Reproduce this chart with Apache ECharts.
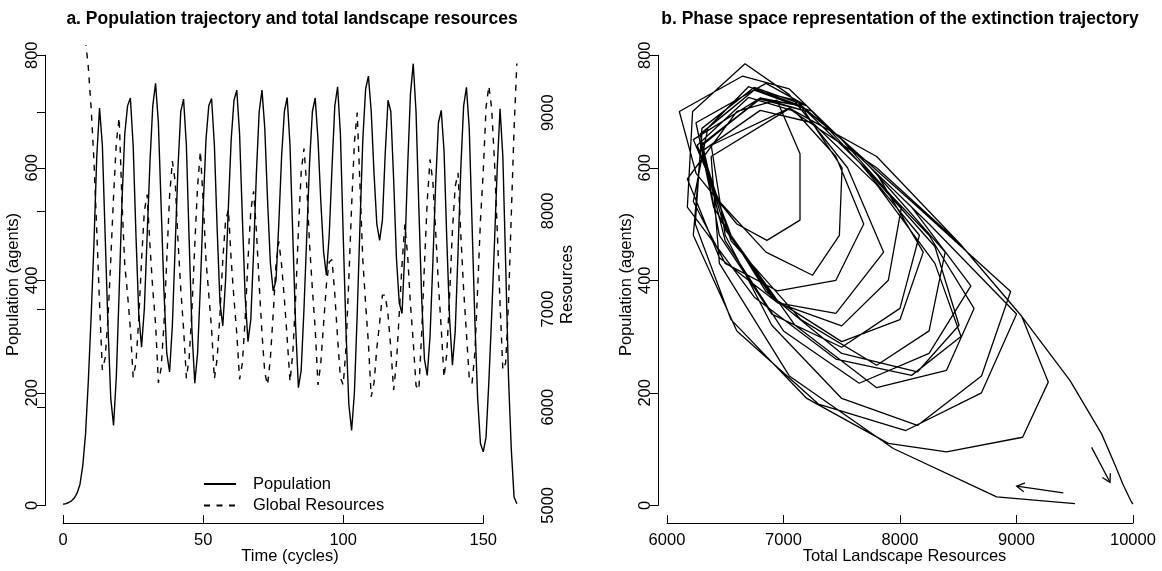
<!DOCTYPE html>
<html>
<head>
<meta charset="utf-8">
<script src="https://cdn.jsdelivr.net/npm/echarts@6/dist/echarts.min.js"></script>
<style>
html,body{margin:0;padding:0;background:#fff;}
#c{width:1162px;height:571px;}
</style>
</head>
<body>
<div id="c"></div>
<script>
// ---------------- DATA ----------------
// time steps (cycles)
const cycles = Array.from({length: 163}, (_, i) => i);
// population (agents) per cycle
const population = [
  2, 3, 5, 8, 13, 22, 37, 70, 127, 222,
  336, 465, 620, 706, 640, 480, 320, 190, 142, 230,
  380, 540, 660, 710, 724, 640, 480, 340, 281, 350,
  480, 610, 710, 750, 680, 530, 380, 270, 237, 320,
  460, 600, 700, 722, 640, 470, 310, 217, 270, 390,
  530, 650, 710, 723, 640, 490, 360, 319, 400, 530,
  650, 720, 738, 660, 510, 370, 291, 330, 450, 590,
  700, 738, 670, 540, 430, 381, 400, 500, 620, 700,
  725, 640, 480, 320, 209, 240, 350, 480, 610, 700,
  724, 650, 540, 450, 409, 480, 600, 710, 744, 660,
  480, 310, 180, 133, 200, 340, 500, 650, 740, 763,
  700, 590, 500, 471, 507, 625, 720, 700, 580, 440,
  360, 341, 450, 600, 730, 785, 700, 530, 370, 260,
  231, 300, 430, 570, 680, 702, 630, 470, 330, 249,
  310, 450, 600, 710, 743, 670, 500, 330, 190, 110,
  95, 121, 219, 336, 465, 600, 705, 620, 430, 230,
  101, 15, 3
];
// total landscape resources per cycle
const resources = [
  10000, 9995, 9990, 9982, 9970, 9950, 9915, 9850, 9731, 9459,
  9045, 8515, 7800, 7050, 6380, 6500, 6900, 7500, 8150, 8700,
  8950, 8100, 7450, 7150, 6800, 6304, 6450, 6900, 7500, 8000,
  8167, 7650, 7200, 6850, 6249, 6400, 6850, 7500, 8150, 8507,
  8300, 7700, 7200, 6800, 6294, 6500, 7000, 7650, 8250, 8609,
  8100, 7500, 7150, 6800, 6287, 6500, 6950, 7500, 7900, 8013,
  7500, 7100, 6750, 6284, 6450, 6900, 7500, 8000, 8200, 7800,
  7250, 6750, 6350, 6226, 6500, 6950, 7450, 7689, 7450, 7100,
  6700, 6260, 6550, 7100, 7800, 8400, 8636, 8250, 7650, 7200,
  6800, 6226, 6450, 6850, 7250, 7480, 7503, 7150, 6700, 6300,
  6226, 6600, 7300, 8050, 8700, 9001, 8250, 7500, 7050, 6650,
  6106, 6250, 6600, 6858, 7142, 7142, 6944, 6600, 6175, 6450,
  6950, 7450, 7860, 7550, 7050, 6670, 6220, 6175, 6750, 7450,
  8100, 8524, 8300, 7800, 7250, 6800, 6304, 6550, 7150, 7800,
  8250, 8388, 7750, 7200, 6750, 6300, 6243, 6550, 7200, 7900,
  8400, 9053, 9273, 9045, 8515, 7800, 7050, 6379, 6450, 7050,
  7943, 8830, 9502
];
// axis ticks: [min, max, step]
const timeTicks = [0, 150, 50];
const popTicks = [0, 800, 200];
const resTicks = [5000, 9000, 1000];
const landTicks = [6000, 10000, 1000];
// direction arrows in phase plot: [x0, y0, x1, y1]
const arrows = [
  [9645, 103, 9803, 41],
  [9402, 22, 9002, 34]
];
const titleA = 'a. Population trajectory and total landscape resources';
const titleB = 'b. Phase space representation of the extinction trajectory';

// ---------------- LAYOUT ----------------
const FONT = 'Liberation Sans, Arial, Helvetica, sans-serif';
const FS = 16.5;
const TOP = 46, BOTTOM = 523;
const PA = {left: 45, right: 535};
const PB = {left: 658, right: 1151};
const rngTime = [-6.48, 168.48];
const rngPop = [-31.4, 816.4];
const rngRes = [4820, 9680];
const rngLand = [5923, 10155];

function mapX(p, rng, v) { return p.left + (v - rng[0]) / (rng[1] - rng[0]) * (p.right - p.left); }
function mapY(rng, v) { return BOTTOM - (v - rng[0]) / (rng[1] - rng[0]) * (BOTTOM - TOP); }

const H = BOTTOM - TOP;
const grids = [
  {left: PA.left, top: TOP, width: PA.right - PA.left, height: H},
  {left: mapX(PA, rngTime, timeTicks[0]), top: TOP,
   width: mapX(PA, rngTime, timeTicks[1]) - mapX(PA, rngTime, timeTicks[0]), height: H},
  {left: PA.left, width: PA.right - PA.left, top: mapY(rngPop, popTicks[1]),
   height: mapY(rngPop, popTicks[0]) - mapY(rngPop, popTicks[1])},
  {left: PA.left, width: PA.right - PA.left, top: mapY(rngRes, resTicks[1]),
   height: mapY(rngRes, resTicks[0]) - mapY(rngRes, resTicks[1])},
  {left: PB.left, top: TOP, width: PB.right - PB.left, height: H},
  {left: mapX(PB, rngLand, landTicks[0]), top: TOP,
   width: mapX(PB, rngLand, landTicks[1]) - mapX(PB, rngLand, landTicks[0]), height: H},
  {left: PB.left, width: PB.right - PB.left, top: mapY(rngPop, popTicks[1]),
   height: mapY(rngPop, popTicks[0]) - mapY(rngPop, popTicks[1])}
];

const txt = {color: '#000', fontFamily: FONT, fontSize: FS};
const lineBlack = {show: true, lineStyle: {color: '#000', width: 1}};
const plain = v => String(v);
function hiddenAxis(gi) {
  return {type: 'value', gridIndex: gi, show: false, min: 0, max: 1};
}
function nameOnly(gi, extra) {
  return Object.assign({
    type: 'value', gridIndex: gi, show: true,
    axisLine: {show: false}, axisTick: {show: false}, axisLabel: {show: false},
    splitLine: {show: false}, nameLocation: 'middle', nameTextStyle: txt
  }, extra);
}
function visX(gi, t) {
  return {
    type: 'value', gridIndex: gi, min: t[0], max: t[1], interval: t[2],
    axisLine: lineBlack, splitLine: {show: false},
    axisTick: {show: true, inside: true, length: 8, lineStyle: {color: '#000', width: 1}},
    axisLabel: Object.assign({margin: 9, formatter: plain, showMinLabel: true, showMaxLabel: true}, txt)
  };
}
function visY(gi, t, pos, inside) {
  return {
    type: 'value', gridIndex: gi, min: t[0], max: t[1], interval: t[2], position: pos,
    axisLine: lineBlack, splitLine: {show: false},
    axisTick: {show: true, inside: inside, length: 8, lineStyle: {color: '#000', width: 1}},
    axisLabel: Object.assign({rotate: 90, margin: inside ? 5 : 4, formatter: plain,
      showMinLabel: true, showMaxLabel: true}, txt)
  };
}

const option = {
  animation: false,
  backgroundColor: '#fff',
  title: [
    {text: titleA, left: 287, top: 5, textAlign: 'center',
     textStyle: {color: '#000', fontFamily: FONT, fontSize: 17.5, fontWeight: 'bold'}},
    {text: titleB, left: 895, top: 5, textAlign: 'center',
     textStyle: {color: '#000', fontFamily: FONT, fontSize: 17.5, fontWeight: 'bold'}}
  ],
  legend: {
    left: 198, top: 470.5, orient: 'vertical', itemWidth: 32, itemHeight: 14, itemGap: 4.5,
    itemStyle: {opacity: 0},
    textStyle: Object.assign({padding: [0, 0, 0, 12]}, txt),
    data: ['Population', 'Global Resources']
  },
  grid: grids,
  xAxis: [
    nameOnly(0, {min: rngTime[0], max: rngTime[1], name: 'Time (cycles)', nameGap: 25}),
    visX(1, timeTicks),
    hiddenAxis(2),
    hiddenAxis(3),
    nameOnly(4, {min: rngLand[0], max: rngLand[1], name: 'Total Landscape Resources', nameGap: 25}),
    visX(5, landTicks),
    hiddenAxis(6)
  ],
  yAxis: [
    nameOnly(0, {min: rngPop[0], max: rngPop[1], name: 'Population (agents)', nameGap: 22.75, position: 'left'}),
    nameOnly(0, {min: rngRes[0], max: rngRes[1], name: 'Resources', nameGap: 24, position: 'right', nameRotate: 90}),
    hiddenAxis(1),
    visY(2, popTicks, 'left', false),
    visY(3, resTicks, 'right', true),
    nameOnly(4, {min: rngPop[0], max: rngPop[1], name: 'Population (agents)', nameGap: 22.75, position: 'left'}),
    hiddenAxis(5),
    visY(6, popTicks, 'left', false)
  ],
  series: [
    {
      name: 'Population', type: 'line', xAxisIndex: 0, yAxisIndex: 0,
      data: cycles.map((t, i) => [t, population[i]]),
      symbol: 'none', clip: true,
      lineStyle: {color: '#000', width: 1.4, type: 'solid'},
      itemStyle: {color: '#000'}
    },
    {
      name: 'Global Resources', type: 'line', xAxisIndex: 0, yAxisIndex: 1,
      data: cycles.map((t, i) => [t, resources[i]]),
      symbol: 'none', clip: true,
      lineStyle: {color: '#000', width: 1.4, type: [6, 6.5]},
      itemStyle: {color: '#000'}
    },
    {
      name: 'phase', type: 'line', xAxisIndex: 4, yAxisIndex: 5,
      data: cycles.map((t, i) => [resources[i], population[i]]),
      symbol: 'none', clip: true,
      lineStyle: {color: '#000', width: 1.3}
    },
    {
      name: 'arrows', type: 'custom', xAxisIndex: 4, yAxisIndex: 5,
      data: arrows,
      encode: {x: [0, 2], y: [1, 3]},
      renderItem: function (params, api) {
        const p0 = api.coord([api.value(0), api.value(1)]);
        const p1 = api.coord([api.value(2), api.value(3)]);
        const ang = Math.atan2(p1[1] - p0[1], p1[0] - p0[0]);
        const len = 9, spread = Math.PI / 6;
        const h1 = [p1[0] - len * Math.cos(ang - spread), p1[1] - len * Math.sin(ang - spread)];
        const h2 = [p1[0] - len * Math.cos(ang + spread), p1[1] - len * Math.sin(ang + spread)];
        const st = {stroke: '#000', lineWidth: 1.3, fill: null};
        return {
          type: 'group',
          children: [
            {type: 'line', shape: {x1: p0[0], y1: p0[1], x2: p1[0], y2: p1[1]}, style: st},
            {type: 'polyline', shape: {points: [h1, p1, h2]}, style: st}
          ]
        };
      }
    }
  ]
};

const chart = echarts.init(document.getElementById('c'), null, {renderer: 'canvas'});
chart.setOption(option);
</script>
</body>
</html>
